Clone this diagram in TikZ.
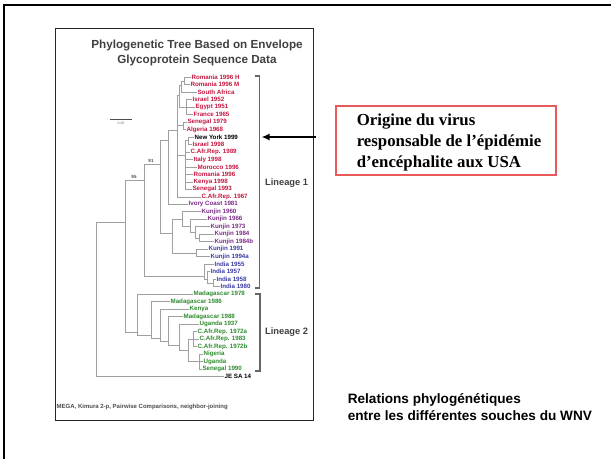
\documentclass[tikz,border=0pt]{standalone}
\usepackage{fontspec}
\setmainfont{Liberation Sans}
\newfontfamily\timesfont{Liberation Serif}
\usetikzlibrary{arrows.meta}

\definecolor{leafred}{HTML}{C4163F}
\definecolor{leafpurple}{HTML}{7B2A86}
\definecolor{leafblue}{HTML}{3A3AA6}
\definecolor{leafgreen}{HTML}{2E8B2E}
\definecolor{branchgray}{HTML}{A0A0A0}
\definecolor{boxred}{HTML}{E85A5A}

\tikzset{
  leaf/.style={anchor=west, inner sep=0.4pt, font=\bfseries\fontsize{6.2}{7}\selectfont},
  branch/.style={draw=branchgray, line width=0.6pt},
  bracketline/.style={draw=black!60, line width=1.2pt},
  boot/.style={inner sep=0pt, text=black!70, font=\bfseries\fontsize{4.5}{5}\selectfont},
}

\begin{document}
\begin{tikzpicture}[x=1pt,y=-1pt]
\useasboundingbox (0,0) rectangle (611,459);

% slide frame and picture frame
\draw [line width=2.2pt] (4,459) -- (4,5) -- (611,5);
\draw [draw=black!85, line width=1pt] (55.3,28.3) rectangle (313.7,420);

\node (title) at (197,53) [align=center, text=black!75, font=\bfseries\fontsize{11.7}{15}\selectfont]{Phylogenetic Tree Based on Envelope\\Glycoprotein Sequence Data};

% leaves, lineage 1
\foreach \txt/\xx/\col [count=\i] in {Romania 1996 H/191/leafred, Romania 1996 M/190/leafred, South Africa/197/leafred,
  Israel 1952/192/leafred, Egypt 1951/195/leafred, France 1965/193/leafred, Senegal 1979/187/leafred,
  Algeria 1968/186/leafred, New York 1999/194/black, Israel 1998/192/leafred, C.Afr.Rep. 1989/190/leafred,
  Italy 1998/193/leafred, Morocco 1996/197/leafred, Romania 1996/193/leafred, Kenya 1998/193/leafred,
  Senegal 1993/192/leafred, C.Afr.Rep. 1967/201/leafred, Ivory Coast 1981/188/leafpurple,
  Kunjin 1960/201/leafpurple, Kunjin 1966/207/leafpurple, Kunjin 1973/210/leafpurple, Kunjin 1984/214/leafpurple,
  Kunjin 1984b/214/leafpurple, Kunjin 1991/208/leafblue, Kunjin 1994a/210/leafblue, India 1955/214/leafblue,
  India 1957/210/leafblue, India 1958/216/leafblue, India 1980/220/leafblue}
  \node (l\i) at (\xx,77.3+7.47*\i-7.47) [leaf, text=\col]{\txt};

% leaves, lineage 2
\foreach \txt/\xx [count=\i] in {Madagascar 1978/193, Madagascar 1986/170, Kenya/189, Madagascar 1988/183,
  Uganda 1937/199, C.Afr.Rep. 1972a/197, C.Afr.Rep. 1983/199, C.Afr.Rep. 1972b/197, Nigeria/203,
  Uganda/203, Senegal 1990/202}
  \node (m\i) at (\xx,294.3+7.47*\i-7.47) [leaf, text=leafgreen]{\txt};

\node (je) at (224,376.7) [leaf, text=black]{JE SA 14};

% inner nodes of the tree
\coordinate (a1) at (184,81.2);
\coordinate (a2) at (181,85);
\coordinate (a3) at (186,107);
\coordinate (a4) at (179,95);
\coordinate (a5) at (183,125.6);
\coordinate (a6) at (188,140.5);
\coordinate (a7) at (185,155);
\coordinate (a8) at (177.3,130);
\coordinate (n10) at (168,140);
\coordinate (k1) at (199,238.5);
\coordinate (k2) at (195,232);
\coordinate (k3) at (190,226);
\coordinate (k4) at (196,253);
\coordinate (k5) at (182,219);
\coordinate (k6) at (172,233);
\coordinate (n11) at (160,164);
\coordinate (i1) at (213,283);
\coordinate (i2) at (207,279);
\coordinate (i3) at (204,276);
\coordinate (n12) at (144.2,180);
\coordinate (h1) at (193,339);
\coordinate (h2) at (199,361.5);
\coordinate (h3) at (188,350);
\coordinate (g3) at (179.3,345);
\coordinate (g4) at (168.7,341);
\coordinate (g5) at (160.6,338);
\coordinate (g6) at (151.2,335);
\coordinate (g7) at (137.2,332);
\coordinate (n13) at (125.5,222);
\coordinate (root) at (96.6,300);

\foreach \p/\c in {a1/l1.west, a1/l2.west, a2/a1, a2/l3.west, a3/l4.west, a3/l5.west, a3/l6.west,
  a4/a2, a4/a3, a5/l7.west, a5/l8.west, a6/l9.west, a6/l10.west, a7/a6, a7/l11.west, a7/l12.west,
  a7/l13.west, a7/l14.west, a7/l15.west, a7/l16.west, a8/a4, a8/a5, a8/a7, a8/l17.west,
  n10/a8, n10/l18.west, k1/l22.west, k1/l23.west, k2/l21.west, k2/k1, k3/l20.west, k3/k2,
  k4/l24.west, k4/l25.west, k5/l19.west, k5/k3, k6/k5, k6/k4, n11/n10, n11/k6,
  i1/l28.west, i1/l29.west, i2/l27.west, i2/i1, i3/l26.west, i3/i2, n12/n11, n12/i3,
  h1/m6.west, h1/m7.west, h1/m8.west, h2/m9.west, h2/m10.west, h2/m11.west, h3/h1, h3/h2,
  g3/m5.west, g3/h3, g4/m4.west, g4/g3, g5/m3.west, g5/g4, g6/m2.west, g6/g5, g7/m1.west, g7/g6,
  n13/n12, n13/g7, root/n13, root/je.west}
  \draw [branch] (\p) |- (\c);

\node (bs1) at (151,161) [boot]{91};
\node (bs2) at (134,177) [boot]{95};

% scale bar
\coordinate (sb1) at (110,119);
\coordinate (sb2) at (132,119);
\draw [black!70, line width=0.8pt] (sb1) -- (sb2);
\node (sblabel) at (121,123.5) [inner sep=0pt, text=black!55, font=\fontsize{3.5}{4}\selectfont]{0.05};

% lineage brackets
\draw [bracketline] (255,76) -- (259.5,76) -- (259.5,288) -- (255,288);
\draw [bracketline] (255,294) -- (260,294) -- (260,371) -- (255,371);
\node (lin1) at (265,183) [anchor=west, inner sep=0pt, text=black!75, font=\bfseries\fontsize{9.3}{11}\selectfont]{Lineage 1};
\node (lin2) at (265,332) [anchor=west, inner sep=0pt, text=black!75, font=\bfseries\fontsize{9.3}{11}\selectfont]{Lineage 2};

\node (method) at (56.5,406.7) [anchor=west, inner sep=0pt, text=black!70, font=\bfseries\fontsize{6}{7}\selectfont]{MEGA, Kimura 2-p, Pairwise Comparisons, neighbor-joining};

% origin of the US strain
\node (originbox) at (446,140.5) [draw=boxred, line width=1.1pt, minimum width=220pt, minimum height=69pt]{};
\node (origintext) at (356.6,142) [anchor=west, align=left, inner sep=0pt, font=\timesfont\bfseries\fontsize{16.8}{21}\selectfont]{Origine du virus\\responsable de l’épidémie\\d’encéphalite aux USA};

\coordinate (arrowstart) at (316,137);
\coordinate (arrowend) at (261.5,137);
\draw [-{Latex[length=8pt,width=7pt]}, line width=2.3pt] (arrowstart) -- (arrowend);

\node (wnvcaption) at (347.6,406.7) [anchor=west, align=left, inner sep=0pt, font=\bfseries\fontsize{13.6}{17}\selectfont]{Relations phylogénétiques\\entre les différentes souches du WNV};

\end{tikzpicture}
\end{document}
